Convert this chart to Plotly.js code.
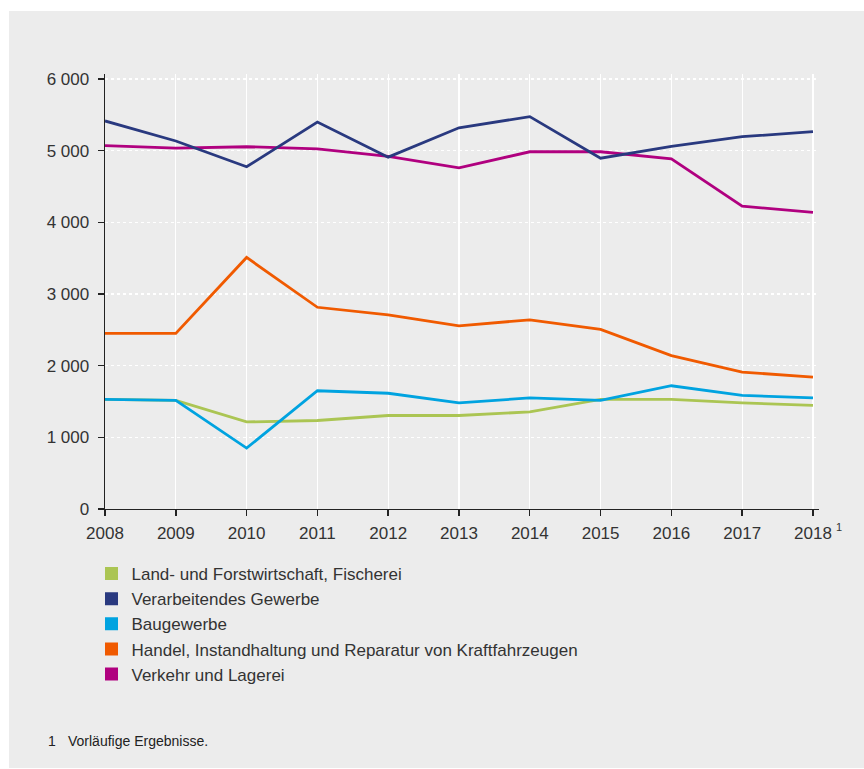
<!DOCTYPE html>
<html>
<head>
<meta charset="utf-8">
<script src="https://cdn.plot.ly/plotly-3.0.1.min.js"></script>
<style>
  html, body { margin: 0; padding: 0; background: #ffffff; }
  #chart { position: absolute; left: 9px; top: 11px; width: 855px; height: 757px; }
</style>
</head>
<body>
<div id="chart"></div>
<script>
const years = [2008, 2009, 2010, 2011, 2012, 2013, 2014, 2015, 2016, 2017, 2018];
const yearLabels = ['2008', '2009', '2010', '2011', '2012', '2013', '2014', '2015', '2016', '2017', '2018'];
const yTicks = [0, 1000, 2000, 3000, 4000, 5000, 6000];

const seriesNames = [
  'Land- und Forstwirtschaft, Fischerei',
  'Verarbeitendes Gewerbe',
  'Baugewerbe',
  'Handel, Instandhaltung und Reparatur von Kraftfahrzeugen',
  'Verkehr und Lagerei'
];
const landForst   = [1530, 1515, 1215, 1235, 1305, 1305, 1355, 1530, 1530, 1480, 1445];
const verarbeit   = [5415, 5135, 4775, 5400, 4910, 5320, 5475, 4895, 5060, 5195, 5265];
const baugewerbe  = [1530, 1515, 850, 1650, 1615, 1480, 1550, 1515, 1720, 1585, 1550];
const handel      = [2450, 2450, 3510, 2815, 2710, 2555, 2640, 2505, 2140, 1910, 1840];
const verkehr     = [5070, 5035, 5055, 5025, 4920, 4760, 4985, 4985, 4885, 4225, 4140];
const footnoteMark = '1';
const footnoteText = 'Vorläufige Ergebnisse.';

const seriesValues = [landForst, verarbeit, baugewerbe, handel, verkehr];
const colors = ['#abc553', '#29397f', '#00a3e0', '#f05a00', '#b0007f'];
const drawOrder = [4, 1, 3, 0, 2];

const traces = [];
drawOrder.forEach(i => {
  traces.push({
    x: years, y: seriesValues[i], type: 'scatter', mode: 'lines',
    line: { color: colors[i], width: 2.8 },
    showlegend: false, hoverinfo: 'skip', name: seriesNames[i]
  });
});
seriesNames.forEach((n, i) => {
  traces.push({
    x: [null], y: [null], type: 'scatter', mode: 'markers', name: n,
    marker: { symbol: 'square', size: 13, color: colors[i] },
    showlegend: true
  });
});

const font = { family: 'Liberation Sans, Arial, sans-serif', size: 17, color: '#333333' };

const layout = {
  width: 855, height: 757,
  paper_bgcolor: '#ececec', plot_bgcolor: '#ececec',
  margin: { l: 96, r: 45, t: 63, b: 259, autoexpand: false },
  font: font,
  separators: ', ',
  showlegend: true,
  legend: {
    xref: 'container', yref: 'container',
    x: 0.0965, y: 0.2800, xanchor: 'left', yanchor: 'top',
    bgcolor: 'rgba(0,0,0,0)', font: font, traceorder: 'normal'
  },
  xaxis: {
    range: [2008, 2018.085],
    tickmode: 'array', tickvals: years, ticktext: yearLabels, tickangle: 0,
    showgrid: true, gridcolor: '#ffffff', gridwidth: 1.2,
    showline: true, linecolor: '#222222', linewidth: 1.4,
    ticks: 'outside', ticklen: 6, tickcolor: '#222222', tickwidth: 1.4,
    ticklabelstandoff: 2,
    zeroline: false, fixedrange: true, tickfont: font
  },
  yaxis: {
    range: [0, 6070],
    tickmode: 'array', tickvals: yTicks,
    separatethousands: true, tickformat: ',d',
    showgrid: true, gridcolor: '#ffffff', gridwidth: 1.5, griddash: 'dot',
    showline: true, linecolor: '#222222', linewidth: 1.4,
    ticks: 'outside', ticklen: 6, tickcolor: '#222222', tickwidth: 1.4,
    ticklabelstandoff: 5,
    zeroline: false, fixedrange: true, tickfont: font
  },
  annotations: [
    { xref: 'x', yref: 'paper', x: 2018, y: -0.0414, xanchor: 'left', yanchor: 'middle',
      xshift: 21, text: footnoteMark, showarrow: false,
      font: { family: font.family, size: 11, color: '#333333' } },
    { xref: 'paper', yref: 'paper', x: -0.0826, y: -0.5333, xanchor: 'left', yanchor: 'middle',
      text: footnoteMark, showarrow: false,
      font: { family: font.family, size: 14, color: '#222222' } },
    { xref: 'paper', yref: 'paper', x: -0.0546, y: -0.5333, xanchor: 'left', yanchor: 'middle',
      text: footnoteText, showarrow: false,
      font: { family: font.family, size: 14, color: '#222222' } }
  ]
};

Plotly.newPlot('chart', traces, layout, { staticPlot: true, displayModeBar: false });
</script>
</body>
</html>
